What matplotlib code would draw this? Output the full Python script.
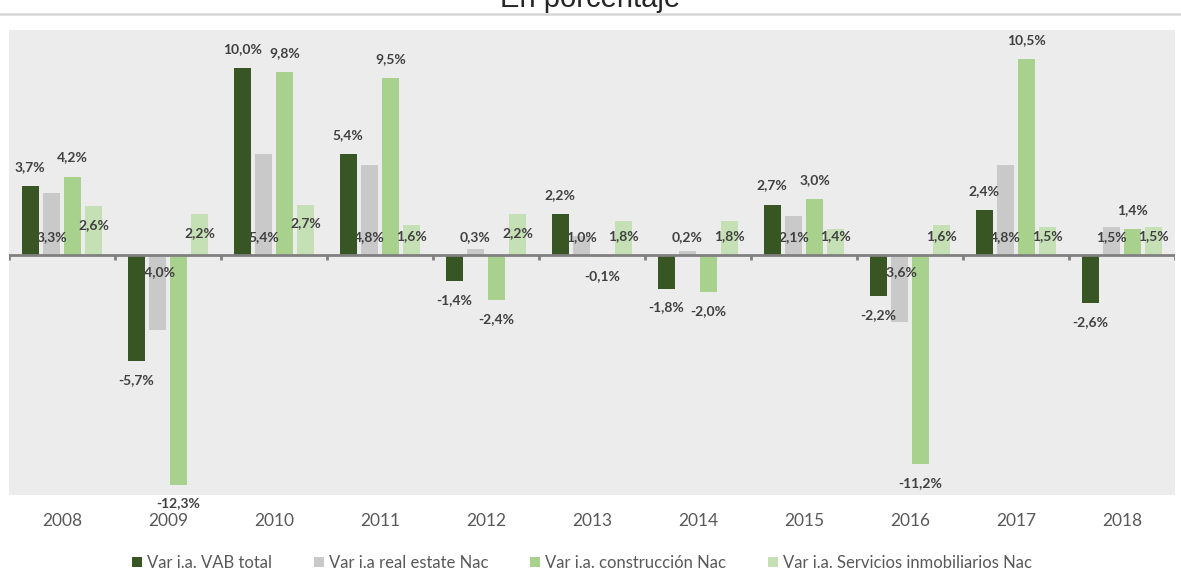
import matplotlib
matplotlib.use('Agg')

import numpy as np
import matplotlib.pyplot as plt
from matplotlib.patches import Patch
from matplotlib.lines import Line2D

# Variación interanual (%) por año
years = ['2008', '2009', '2010', '2011', '2012', '2013',
         '2014', '2015', '2016', '2017', '2018']
vab_total = [3.7, -5.7, 10.0, 5.4, -1.4, 2.2, -1.8, 2.7, -2.2, 2.4, -2.6]
real_estate = [3.3, -4.0, 5.4, 4.8, 0.3, 1.0, 0.2, 2.1, -3.6, 4.8, 1.5]
construccion = [4.2, -12.3, 9.8, 9.5, -2.4, -0.1, -2.0, 3.0, -11.2, 10.5, 1.4]
servicios = [2.6, 2.2, 2.7, 1.6, 2.2, 1.8, 1.8, 1.4, 1.6, 1.5, 1.5]

series_names = ['Var i.a. VAB total', 'Var i.a real estate Nac',
                'Var i.a. construcción Nac', 'Var i.a. Servicios inmobiliarios Nac']
colors = ['#375623', '#c9c9c9', '#a9d18e', '#c5e0b4']

W, H = 1181, 575
plt.rcParams['font.family'] = ['Lato', 'DejaVu Sans']

fig = plt.figure(figsize=(W / 100, H / 100), dpi=100, facecolor='white')
ax = fig.add_axes([9 / W, 1 - 495 / H, 1166 / W, 465 / H])
ax.set_facecolor('#ececec')
for s in ax.spines.values():
    s.set_visible(False)

x = np.arange(len(years))
width = 0.16
step = 0.2
all_series = [vab_total, real_estate, construccion, servicios]
bar_z = [3, 2, 2, 2]

for i, (vals, c) in enumerate(zip(all_series, colors)):
    ax.bar(x + (i - 1.5) * step, vals, width, color=c, zorder=bar_z[i])

ax.set_xlim(-0.5, len(years) - 0.5)
ax.set_ylim(-12.86, 12.05)

# zero axis with category separators
ax.axhline(0, color='#808080', lw=2, zorder=5)
ax.vlines(np.arange(-0.5, len(years)), -0.28, 0, color='#808080', lw=2, zorder=5)

ax.set_yticks([])
ax.set_xticks(x)
ax.set_xticklabels(years, fontsize=12.5, color='#595959')
ax.tick_params(axis='x', length=0, pad=13)


def fmt(v):
    return '{:.1f}%'.format(v).replace('.', ',')


lab_kw = dict(ha='center', va='center', fontsize=10, fontweight='bold',
              color='#404040', clip_on=False)
px = 1 / 18.67  # one pixel in data units

for j in range(len(years)):
    # VAB total and construcción: outside end
    for i in (0, 2):
        v = all_series[i][j]
        y = v + 19 * px if v >= 0 else v - 19 * px
        ax.text(x[j] + (i - 1.5) * step, y, fmt(v), zorder=6, **lab_kw)
    # real estate: inside base, tucked under the dark bars
    v = real_estate[j]
    y = 18 * px if v >= 0 else -17 * px
    ax.text(x[j] - 0.5 * step, y, fmt(v), zorder=2.5, **lab_kw)
    # servicios inmobiliarios: inside end
    v = servicios[j]
    y = max(v - 19 * px, 19 * px)
    ax.text(x[j] + 1.5 * step, y, fmt(v), zorder=6, **lab_kw)

# title cut at the top edge and separator line
fig.text(0.5, 1 - 7 / H, 'En porcentaje', ha='center', va='baseline',
         fontsize=21, family='Liberation Sans', color='#262626')
fig.add_artist(Line2D([0, 1], [1 - 14 / H, 1 - 14 / H], transform=fig.transFigure,
                      color='#d6d6d6', lw=1.8))

handles = [Patch(facecolor=c, edgecolor='none') for c in colors]
fig.legend(handles, series_names, loc='center', bbox_to_anchor=(582 / W, 1 - 563 / H),
           ncol=4, frameon=False, fontsize=12, labelcolor='#595959',
           handlelength=0.6, handleheight=0.6, handletextpad=0.3, columnspacing=2.5)

fig.savefig('out.png', dpi=100, facecolor='white')
